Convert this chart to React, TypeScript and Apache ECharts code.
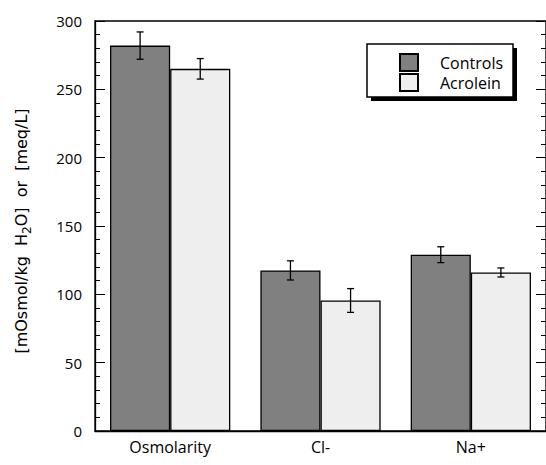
import React, { useEffect, useRef } from "react";
import * as echarts from "echarts";

const categories = ["Osmolarity", "Cl-", "Na+"];
const seriesNames = ["Controls", "Acrolein"];
const controls = [282, 117.5, 129];
const controlsErr = [10, 7, 5.8];
const acrolein = [265, 95.5, 116];
const acroleinErr = [7.5, 8.7, 3.3];
const yTicks = { min: 0, max: 300, interval: 50 };

const FONT = "'Open Sans', 'DejaVu Sans', sans-serif";
const NAME_FONT = "'DejaVu Sans', 'Open Sans', sans-serif";

export default function App() {
  const ref = useRef<HTMLDivElement>(null);
  useEffect(() => {
    if (!ref.current) return;
    const chart = echarts.init(ref.current, null, { renderer: "svg" });

    const errData = (vals: number[], errs: number[], side: number) =>
      vals.map((v, i) => [i, v - errs[i], v + errs[i], side]);

    const renderErr = (params: any, api: any) => {
      const ci = api.value(0);
      const lo = api.value(1);
      const hi = api.value(2);
      const side = api.value(3);
      const w = api.size([1, 0])[0];
      const pLo = api.coord([ci, lo]);
      const pHi = api.coord([ci, hi]);
      const x = pLo[0] + side * 0.2 * w;
      const cap = 3.5;
      const st = { stroke: "#000", lineWidth: 1.3 };
      return {
        type: "group",
        children: [
          { type: "line", shape: { x1: x, y1: pLo[1], x2: x, y2: pHi[1] }, style: st },
          { type: "line", shape: { x1: x - cap, y1: pLo[1], x2: x + cap, y2: pLo[1] }, style: st },
          { type: "line", shape: { x1: x - cap, y1: pHi[1], x2: x + cap, y2: pHi[1] }, style: st },
        ],
      };
    };

    const yAxisBase = {
      type: "value",
      min: yTicks.min,
      max: yTicks.max,
      interval: yTicks.interval,
      axisLine: { show: true, lineStyle: { color: "#000", width: 1.3 } },
      axisTick: { show: true, inside: true, length: 10, lineStyle: { color: "#000", width: 1 } },
      minorTick: { show: true, splitNumber: 5, length: 5, lineStyle: { color: "#000", width: 1 } },
      splitLine: { show: false },
      minorSplitLine: { show: false },
    };

    chart.setOption({
      animation: false,
      backgroundColor: "#fff",
      grid: {
        left: 95,
        top: 21,
        width: 453,
        height: 410,
        show: true,
        borderColor: "#000",
        borderWidth: 1.3,
        backgroundColor: "transparent",
      },
      legend: {
        data: seriesNames,
        orient: "vertical",
        left: 399,
        top: 53,
        padding: 0,
        itemWidth: 18,
        itemHeight: 17,
        itemGap: 1,
        icon: "rect",
        z: 20,
        textStyle: {
          fontFamily: FONT,
          fontSize: 16,
          color: "#000",
          lineHeight: 18,
          padding: [0, 0, 0, 17],
        },
      },
      xAxis: {
        type: "category",
        data: categories,
        axisLine: { show: true, lineStyle: { color: "#000", width: 1.3 } },
        axisTick: { show: false },
        axisLabel: { fontFamily: FONT, fontSize: 16, color: "#000", margin: 8 },
      },
      yAxis: [
        {
          ...yAxisBase,
          position: "left",
          axisLabel: { fontFamily: FONT, fontSize: 15, color: "#000", margin: 13 },
        },
        {
          ...yAxisBase,
          position: "right",
          axisLabel: { show: false },
        },
      ],
      graphic: [
        {
          type: "rect",
          shape: { x: 371, y: 48, width: 146, height: 53 },
          style: { fill: "#000" },
          z: 10,
        },
        {
          type: "rect",
          shape: { x: 367, y: 44, width: 146, height: 53 },
          style: { fill: "#fff", stroke: "#000", lineWidth: 1.5 },
          z: 11,
        },
        {
          type: "text",
          x: 21,
          y: 231,
          rotation: Math.PI / 2,
          z: 10,
          style: {
            text: "{a|[mOsmol/kg  H}{s|2}{a|O]  or  [meq/L]}",
            align: "center",
            verticalAlign: "middle",
            rich: {
              a: { fontFamily: NAME_FONT, fontSize: 16, fill: "#000", lineHeight: 24, verticalAlign: "middle" },
              s: { fontFamily: NAME_FONT, fontSize: 12, fill: "#000", lineHeight: 12, verticalAlign: "bottom" },
            },
          },
        },
      ],
      series: [
        {
          name: seriesNames[0],
          type: "bar",
          data: controls,
          barGap: "0%",
          barCategoryGap: "20%",
          itemStyle: { color: "#808080", borderColor: "#000", borderWidth: 1.3 },
        },
        {
          name: seriesNames[1],
          type: "bar",
          data: acrolein,
          barGap: "0%",
          barCategoryGap: "20%",
          itemStyle: { color: "#eeeeee", borderColor: "#000", borderWidth: 1.3 },
        },
        {
          type: "custom",
          renderItem: renderErr,
          data: errData(controls, controlsErr, -1),
          encode: { x: 0, y: [1, 2] },
          z: 5,
        },
        {
          type: "custom",
          renderItem: renderErr,
          data: errData(acrolein, acroleinErr, 1),
          encode: { x: 0, y: [1, 2] },
          z: 5,
        },
      ],
    });
    return () => chart.dispose();
  }, []);

  return (
    <div
      ref={ref}
      style={{ position: "fixed", left: 0, top: 0, width: 546, height: 465 }}
    />
  );
}
